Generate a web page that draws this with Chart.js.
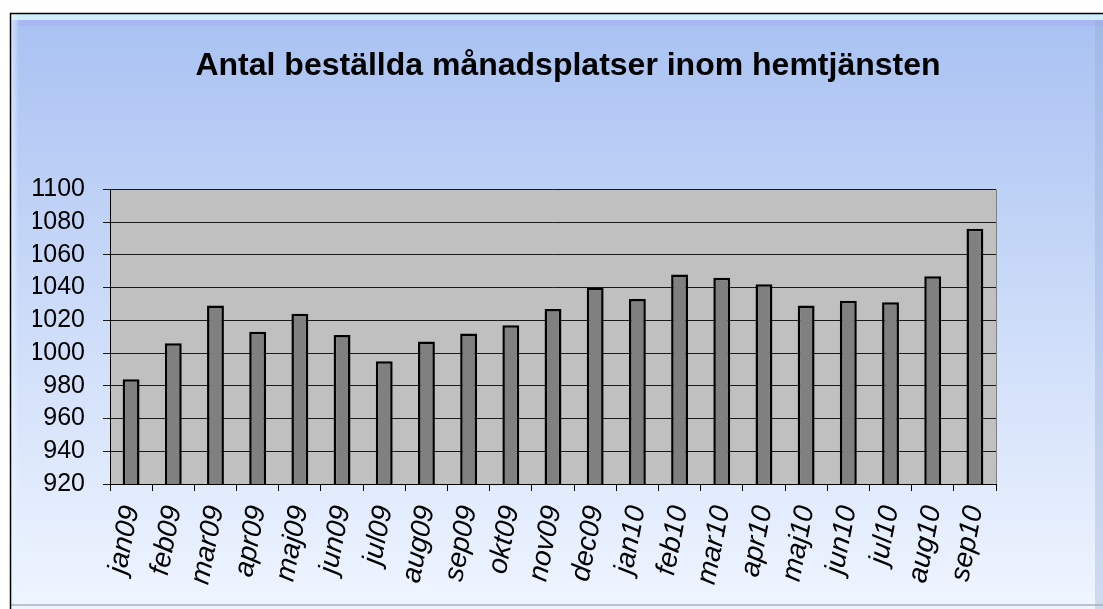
<!DOCTYPE html>
<html>
<head>
<meta charset="utf-8">
<script src="https://cdn.jsdelivr.net/npm/chart.js@4/dist/chart.umd.min.js"></script>
<style>
  html, body { margin: 0; padding: 0; background: #ffffff; }
  #wrap { position: absolute; left: 0; top: 0; width: 1103px; height: 609px; }
</style>
</head>
<body>
<div id="wrap"><canvas id="c" width="1103" height="609"></canvas></div>
<script>
const titleText = 'Antal beställda månadsplatser inom hemtjänsten';
const categories = ['jan09','feb09','mar09','apr09','maj09','jun09','jul09','aug09','sep09','okt09','nov09','dec09','jan10','feb10','mar10','apr10','maj10','jun10','jul10','aug10','sep10'];
const values = [984, 1006, 1029, 1013, 1024, 1011, 995, 1007, 1012, 1017, 1027, 1040, 1033, 1048, 1046, 1042, 1029, 1032, 1031, 1047, 1076];
const yMin = 920, yMax = 1100, yStep = 20;

const bgPlugin = {
  id: 'bgPlugin',
  beforeDraw(chart) {
    const ctx = chart.ctx;
    const W = chart.width, H = chart.height;
    ctx.save();
    ctx.fillStyle = '#ffffff';
    ctx.fillRect(0, 0, W, H);
    const g = ctx.createLinearGradient(0, 20, 0, 605);
    g.addColorStop(0, '#a9c2f2');
    g.addColorStop(1, '#eff5ff');
    ctx.fillStyle = g;
    ctx.fillRect(10, 13, W - 10, H - 13);
    ctx.fillStyle = '#cdeefa';
    ctx.fillRect(11, 14, W - 11, 6);
    ctx.fillStyle = '#aab6f4';
    ctx.fillRect(18, 20, W - 18, 6);
    const gl = ctx.createLinearGradient(11, 0, 19, 0);
    gl.addColorStop(0, 'rgba(230,245,255,0.7)');
    gl.addColorStop(1, 'rgba(230,245,255,0)');
    ctx.fillStyle = gl;
    ctx.fillRect(11, 14, 8, H - 14);
    ctx.fillStyle = 'rgba(150,170,210,0.35)';
    ctx.fillRect(W - 8, 20, 8, H - 20);
    ctx.fillStyle = 'rgba(150,160,180,0.6)';
    ctx.fillRect(11, H - 5, W - 11, 2);
    ctx.strokeStyle = '#000000';
    ctx.lineWidth = 1.5;
    ctx.beginPath();
    ctx.moveTo(10.5, H);
    ctx.lineTo(10.5, 13.5);
    ctx.lineTo(W, 13.5);
    ctx.stroke();
    const a = chart.chartArea;
    ctx.fillStyle = '#c0c0c0';
    ctx.fillRect(a.left, a.top, a.right - a.left, a.bottom - a.top);
    ctx.strokeStyle = '#808080';
    ctx.lineWidth = 1;
    ctx.beginPath();
    ctx.moveTo(a.right + 0.5, a.top);
    ctx.lineTo(a.right + 0.5, a.bottom);
    ctx.stroke();
    ctx.restore();
  }
};

new Chart(document.getElementById('c'), {
  type: 'bar',
  data: {
    labels: categories,
    datasets: [{
      data: values,
      backgroundColor: '#808080',
      borderColor: '#000000',
      borderWidth: 2.5,
      borderSkipped: false,
      categoryPercentage: 1.0,
      barPercentage: 0.4,
      yAxisID: 'y'
    }]
  },
  options: {
    responsive: false,
    animation: false,
    devicePixelRatio: 1,
    layout: { padding: { left: 33, right: 0, top: 0, bottom: 0 } },
    plugins: {
      legend: { display: false },
      tooltip: { enabled: false },
      title: {
        display: true,
        text: titleText,
        color: '#000000',
        font: { family: 'Liberation Sans, Arial, sans-serif', size: 32, weight: 'bold', lineHeight: 1.2 },
        padding: { top: 47, bottom: 104 }
      }
    },
    scales: {
      x: {
        grid: { display: true, drawOnChartArea: false, drawTicks: true, tickLength: 7, color: '#000000', offset: true },
        border: { display: true, color: '#000000', width: 1 },
        ticks: {
          autoSkip: false,
          maxRotation: 79,
          minRotation: 79,
          color: '#000000',
          padding: 12,
          font: { family: 'Liberation Sans, Arial, sans-serif', size: 28, style: 'italic' }
        },
        afterFit(scale) { scale.height = 125; }
      },
      y: {
        position: 'left',
        min: yMin,
        max: yMax,
        grid: { display: true, color: '#1a1a1a', lineWidth: 1, tickLength: 7, drawTicks: true },
        border: { display: true, color: '#000000', width: 1 },
        ticks: {
          autoSkip: false,
          stepSize: yStep,
          color: '#000000',
          padding: 18,
          font: { family: 'Liberation Sans, Arial, sans-serif', size: 25 },
          callback: (v) => String(v)
        },
        afterFit(scale) { scale.width = 77; }
      },
      yRight: {
        position: 'right',
        display: true,
        grid: { display: false, drawTicks: false },
        border: { display: false },
        ticks: { display: false },
        afterFit(scale) { scale.width = 107; }
      }
    }
  },
  plugins: [bgPlugin]
});
</script>
</body>
</html>
